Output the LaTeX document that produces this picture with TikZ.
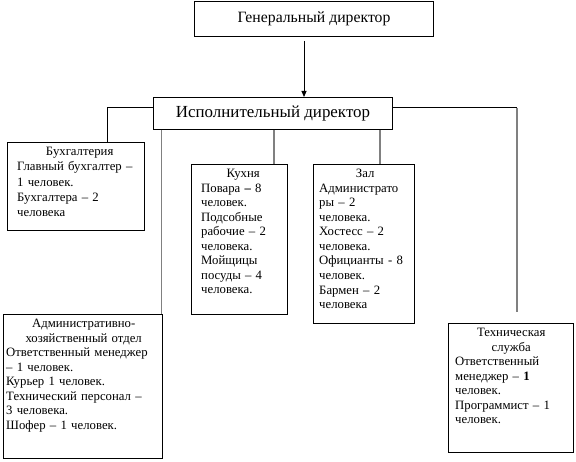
\documentclass[tikz,border=0pt]{standalone}
\usepackage{fontspec}
\setmainfont{Liberation Serif}
\usetikzlibrary{arrows.meta}
\definecolor{lgray}{RGB}{128,128,128}
\begin{document}
\begin{tikzpicture}[x=1bp,y=-1bp,
  box/.style={draw,line width=1bp,inner sep=0pt,anchor=north west},
  txt/.style={inner sep=0pt,anchor=north west,align=left,font=\fontsize{12.8}{14.6}\selectfont},
  gline/.style={draw=lgray,line width=1.6bp},
  bline/.style={draw=black,line width=1bp}]
\useasboundingbox (0,0) rectangle (576,462);
% boxes
\node[box,minimum width=239bp,minimum height=35bp,font=\fontsize{15.8}{17}\selectfont] (gen) at (194,1) {Генеральный директор};
\node[box,minimum width=239bp,minimum height=32bp,font=\fontsize{17}{19}\selectfont] (exec) at (153,97) {Исполнительный директор};
\node[box,minimum width=137bp,minimum height=88bp] (buh) at (7,142) {};
\node[box,minimum width=96bp,minimum height=150bp] (kitchen) at (191,164) {};
\node[box,minimum width=101bp,minimum height=159bp] (hall) at (313,164) {};
\node[box,minimum width=159bp,minimum height=144bp] (adm) at (3,314) {};
\node[box,minimum width=125bp,minimum height=129bp] (tech) at (448,323) {};
% texts
\node[txt,text width=125bp,font=\fontsize{12.8}{15.3}\selectfont] (buhT) at (17,147) {{\centering Бухгалтерия\par}Главный бухгалтер –\\1 человек.\\Бухгалтера – 2\\человека};
\node[txt,text width=84bp] (kitchenT) at (201,169) {{\centering Кухня\par}Повара \textbf{–} 8\\человек.\\Подсобные\\рабочие – 2\\человека.\\Мойщицы\\посуды – 4\\человека.};
\node[txt,text width=92bp] (hallT) at (319,169) {{\centering Зал\par}Администрато\\ры – 2\\человека.\\Хостесс – 2\\человека.\\Официанты - 8\\человек.\\Бармен – 2\\человека};
\node[txt,text width=155bp] (admT) at (6,319) {{\centering Административно-\\хозяйственный отдел\par}Ответственный менеджер\\– 1 человек.\\Курьер 1 человек.\\Технический персонал –\\3 человека.\\Шофер – 1 человек.};
\node[txt,text width=112bp] (techT) at (455,328) {{\centering Техническая\\служба\par}Ответственный\\менеджер – \textbf{1}\\человек.\\Программист – 1\\человек.};
% connectors
\coordinate (ar) at (304,0);
\draw[bline,shorten <=4bp,-{Triangle[length=6bp,width=5bp]}] (ar |- gen.south) -- (ar |- exec.north);
\coordinate (lk) at (107,108);
\draw[bline] (exec.west |- lk) -- (lk) -- (lk |- buh.north);
\coordinate (rk) at (517,108);
\coordinate (te) at (517,312);
\draw[bline] (exec.east |- rk) -- (rk);
\draw[gline] (rk) -- (te);
\coordinate (a1) at ([xshift=-1.5bp]adm.north east);
\draw[gline] (a1 |- exec.south) -- (a1);
\coordinate (k1) at (274,164);
\draw[gline] (k1 |- exec.south) -- (k1 |- kitchen.north);
\coordinate (h1) at (380,164);
\draw[gline] (h1 |- exec.south) -- (h1 |- hall.north);
\end{tikzpicture}
\end{document}
